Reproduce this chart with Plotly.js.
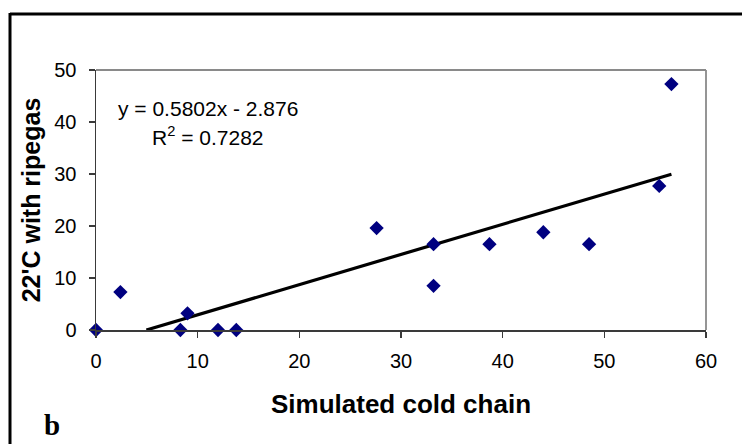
<!DOCTYPE html>
<html>
<head>
<meta charset="utf-8">
<script src="https://cdn.plot.ly/plotly-3.0.1.min.js"></script>
<style>
html,body{margin:0;padding:0;background:#fff;}
#chart{width:742px;height:444px;}
</style>
</head>
<body>
<div id="chart"></div>
<script>
// Data
const coldChain = [0, 2.4, 8.3, 9.0, 12.0, 13.8, 27.6, 33.2, 33.2, 38.7, 44.0, 48.5, 55.4, 56.6];
const ripegas22 = [0, 7.3, 0, 3.2, 0, 0, 19.6, 16.5, 8.5, 16.5, 18.8, 16.5, 27.7, 47.3];
const trendSlope = [0.5802];
const trendIntercept = [-2.876];
const xTickVals = [0, 10, 20, 30, 40, 50, 60];
const yTickVals = [0, 10, 20, 30, 40, 50];
const xTitle = "Simulated cold chain";
const yTitle = "22'C with ripegas";
const eqText = "y = 0.5802x - 2.876";
const r2Text = "R<sup>2</sup> = 0.7282";
const panelLabel = "b";

const m = trendSlope[0], b = trendIntercept[0];
const xStart = -b / m;
const xEnd = Math.max(...coldChain);
const trendX = [xStart, xEnd];
const trendY = trendX.map(v => m * v + b);

const pts = {
  x: coldChain, y: ripegas22, type: 'scatter', mode: 'markers',
  marker: {symbol: 'diamond', size: 11, color: '#000080'},
  cliponaxis: false, showlegend: false, hoverinfo: 'x+y'
};
const trend = {
  x: trendX, y: trendY, type: 'scatter', mode: 'lines',
  line: {color: '#000000', width: 3.2}, showlegend: false, hoverinfo: 'skip'
};

const W = 742, H = 444, L = 96, R = 36, T = 70, B = 114;
const pw = W - L - R, ph = H - T - B;
const px = v => (v - L) / pw;
const py = v => 1 - (v - T) / ph;

const font = 'Arial, "Liberation Sans", sans-serif';
const layout = {
  width: W, height: H,
  margin: {l: L, r: R, t: T, b: B, pad: 0},
  paper_bgcolor: '#ffffff', plot_bgcolor: '#ffffff',
  font: {family: font, color: '#000000'},
  xaxis: {
    range: [0, 60], tickvals: xTickVals, ticktext: xTickVals.map(String),
    showgrid: false, zeroline: false, showline: true, linecolor: '#3a3a3a', linewidth: 1.5,
    ticks: 'outside', ticklen: 6, tickwidth: 1.5, tickcolor: '#3a3a3a',
    ticklabelstandoff: 6,
    tickfont: {size: 20, family: font, color: '#000'},
    title: {text: xTitle, font: {size: 26, family: font, color: '#000', weight: 'bold'}, standoff: 24},
    fixedrange: true
  },
  yaxis: {
    range: [0, 50], tickvals: yTickVals, ticktext: yTickVals.map(String),
    showgrid: false, zeroline: false, showline: true, linecolor: '#3a3a3a', linewidth: 1.5,
    ticks: 'outside', ticklen: 6, tickwidth: 1.5, tickcolor: '#3a3a3a',
    ticklabelstandoff: 8,
    tickfont: {size: 20, family: font, color: '#000'},
    title: {text: yTitle, font: {size: 25, family: font, color: '#000', weight: 'bold'}, standoff: 6},
    fixedrange: true
  },
  shapes: [
    // plot-area border (top and right, grey)
    {type: 'line', xref: 'paper', yref: 'paper', x0: 0, x1: 1, y0: 1, y1: 1, line: {color: '#8a8a8a', width: 1.8}},
    {type: 'line', xref: 'paper', yref: 'paper', x0: 1, x1: 1, y0: 0, y1: 1, line: {color: '#8a8a8a', width: 1.8}},
    // outer frame (left and top, black)
    {type: 'line', xref: 'paper', yref: 'paper', x0: px(10), x1: px(10), y0: py(13), y1: py(460), line: {color: '#000000', width: 3}},
    {type: 'line', xref: 'paper', yref: 'paper', x0: px(10), x1: px(760), y0: py(14), y1: py(14), line: {color: '#000000', width: 3}}
  ],
  annotations: [
    {text: eqText, xref: 'paper', yref: 'paper', x: px(207.5), y: py(108), xanchor: 'center', yanchor: 'middle',
     showarrow: false, font: {size: 21, family: font, color: '#000'}},
    {text: r2Text, xref: 'paper', yref: 'paper', x: px(208), y: py(136), xanchor: 'center', yanchor: 'middle',
     showarrow: false, font: {size: 21, family: font, color: '#000'}},
    {text: panelLabel, xref: 'paper', yref: 'paper', x: px(42), y: py(425), xanchor: 'left', yanchor: 'middle',
     showarrow: false, font: {size: 29, family: '"Liberation Serif", "Times New Roman", serif', color: '#000', weight: 'bold'}}
  ]
};

Plotly.newPlot('chart', [trend, pts], layout, {displayModeBar: false, staticPlot: true});
</script>
</body>
</html>
